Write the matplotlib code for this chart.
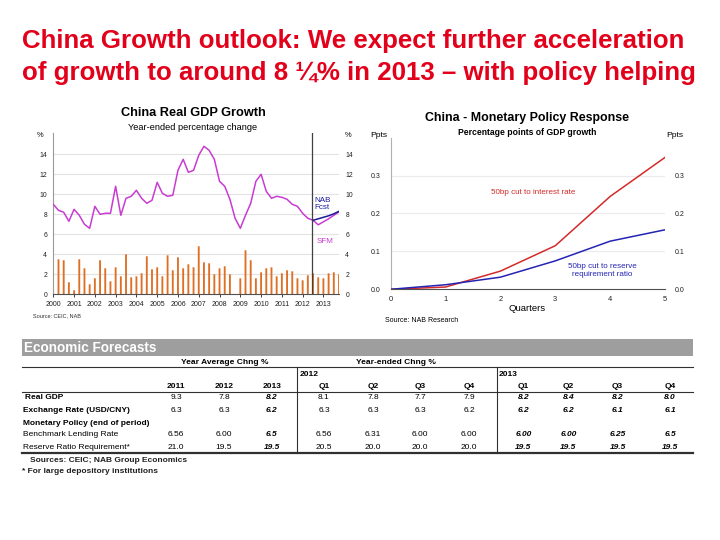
import numpy as np
import matplotlib
matplotlib.use("Agg")
import matplotlib.pyplot as plt
from matplotlib.patches import Rectangle
from matplotlib.lines import Line2D

plt.rcParams['font.family'] = ['Liberation Sans', 'DejaVu Sans']

W, H = 720, 540

TITLE_RED = '#E2001A'
MAGENTA = '#C83CD2'
NAVY = '#1A1A9A'
ORANGE = '#DE7026'
GRID = '#E2E2E2'

# China real GDP, year-ended % change, quarterly from 2000Q1
gdp_years = list(range(2000, 2014))
gdp_actual = [9.0, 8.4, 8.2, 7.3, 8.5, 7.9, 7.0, 6.6, 8.8, 8.0, 8.1, 8.1,
			  10.8, 7.9, 9.6, 9.8, 10.4, 9.6, 9.1, 9.4, 11.2, 10.1, 9.8, 9.9,
			  12.4, 13.5, 12.2, 12.4, 13.9, 14.8, 14.4, 13.5, 11.3, 10.8, 9.5, 7.6,
			  6.6, 7.9, 9.1, 11.3, 12.0, 10.3, 9.6, 9.8, 9.7, 9.5, 9.0, 8.8,
			  8.1, 7.6, 7.4]
# forecasts start at the last actual quarter (2012Q3)
nab_fcst = [7.4, 7.55, 7.7, 7.85, 8.05, 8.3]
sfm_fcst = [7.4, 6.95, 7.25, 7.55, 7.9, 8.25]
# quarterly change, bars (2000Q1 .. 2013Q4)
gdp_qoq = [np.nan, 3.5, 3.4, 1.2, 0.4, 3.5, 2.6, 1.0, 1.6, 3.4, 2.6, 1.3,
		   2.7, 1.8, 4.0, 1.7, 1.8, 2.1, 3.8, 2.5, 2.7, 1.8, 3.9, 2.4,
		   3.7, 2.6, 3.0, 2.7, 4.8, 3.2, 3.1, 2.0, 2.6, 2.8, 2.0, np.nan,
		   1.6, 4.4, 3.4, 1.6, 2.2, 2.6, 2.7, 1.8, 2.1, 2.4, 2.3, 1.6,
		   1.4, 1.9, 2.1, 1.7, 1.6, 2.1, 2.2, 2.0]

# Monetary policy response, ppts of GDP growth
mp_quarters = [0, 1, 2, 3, 4, 5]
rate_cut = [0.0, 0.006, 0.048, 0.115, 0.245, 0.348]
rrr_cut = [0.0, 0.012, 0.032, 0.075, 0.127, 0.157]

# Economic forecasts table
col_years = ['2011', '2012', '2013', 'Q1', 'Q2', 'Q3', 'Q4', 'Q1', 'Q2', 'Q3', 'Q4']
row_gdp = ['9.3', '7.8', '8.2', '8.1', '7.8', '7.7', '7.9', '8.2', '8.4', '8.2', '8.0']
row_fx = ['6.3', '6.3', '6.2', '6.3', '6.3', '6.3', '6.2', '6.2', '6.2', '6.1', '6.1']
row_lending = ['6.56', '6.00', '6.5', '6.56', '6.31', '6.00', '6.00', '6.00', '6.00', '6.25', '6.5']
row_rrr = ['21.0', '19.5', '19.5', '20.5', '20.0', '20.0', '20.0', '19.5', '19.5', '19.5', '19.5']
forecast_cols = [2, 7, 8, 9, 10]


def fx(x):
	return x / W


def fy(y):
	return 1 - y / H


def pt(px):
	return px * 0.72


def add_axes_px(fig, x0, x1, ytop, ybot):
	return fig.add_axes([fx(x0), fy(ybot), (x1 - x0) / W, (ybot - ytop) / H])


def plot_gdp(fig):
	"""
	Left panel: China real GDP growth with NAB / SFM forecasts
	"""
	ax = add_axes_px(fig, 53.3, 339, 133.3, 294.3)
	n_act = len(gdp_actual)
	x_act = np.arange(n_act)
	x_fc = np.arange(n_act - 1, n_act - 1 + len(nab_fcst))
	x_bar = np.arange(len(gdp_qoq))

	for v in range(2, 16, 2):
		ax.axhline(v, color=GRID, linewidth=0.8, zorder=0)

	ax.bar(x_bar, gdp_qoq, width=0.36, color=ORANGE, zorder=2, snap=False)
	ax.plot(x_act, gdp_actual, color=MAGENTA, linewidth=1.1, zorder=3)
	ax.plot(x_fc, sfm_fcst, color=MAGENTA, linewidth=1.1, zorder=3)
	ax.plot(x_fc, nab_fcst, color=NAVY, linewidth=1.1, zorder=4)
	ax.axvline(n_act - 1.2, color='#404040', linewidth=0.9, zorder=5)

	ax.set_xlim(0, len(gdp_qoq) - 1)
	ax.set_ylim(0, 16.1)
	ax.set_yticks(range(0, 16, 2))
	ax.set_xticks(np.arange(len(gdp_years)) * 4)
	ax.set_xticklabels([str(y) for y in gdp_years])
	ax.tick_params(axis='y', length=0, labelsize=pt(6.8), pad=4.5, labelright=True, colors='#202020')
	ax.tick_params(axis='x', length=2, width=0.6, labelsize=pt(7), pad=3, colors='#202020')
	for s in ['top', 'right']:
		ax.spines[s].set_visible(False)
	ax.spines['left'].set_color('#9A9A9A')
	ax.spines['bottom'].set_color('#505050')

	ax.text(0.915, 0.56, 'NAB\nFcst', transform=ax.transAxes, color=NAVY,
			fontsize=pt(8), ha='left', va='center', linespacing=1.0)
	ax.text(0.92, 0.33, 'SFM', transform=ax.transAxes, color=MAGENTA,
			fontsize=pt(8), ha='left', va='center')

	fig.text(fx(193), fy(113), 'China Real GDP Growth', fontsize=pt(12.7), weight='bold',
			 ha='center', va='center')
	fig.text(fx(193), fy(127), 'Year-ended percentage change', fontsize=pt(9.3),
			 ha='center', va='center')
	fig.text(fx(40), fy(135.5), '%', fontsize=pt(7.5), ha='center', va='center')
	fig.text(fx(348.5), fy(135.5), '%', fontsize=pt(7.5), ha='center', va='center')
	fig.text(fx(33), fy(316), 'Source: CEIC, NAB', fontsize=pt(5.5), ha='left', va='center',
			 color='#303030')


def plot_policy(fig):
	"""
	Right panel: monetary policy response
	"""
	ax = add_axes_px(fig, 390.7, 665, 137.7, 289.3)
	for v in [0.1, 0.2, 0.3]:
		ax.axhline(v, color='#EBEBEB', linewidth=0.8, zorder=0)
	ax.plot(mp_quarters, rate_cut, color='#D42A2A', linewidth=1.1, zorder=3)
	ax.plot(mp_quarters, rrr_cut, color='#2424B4', linewidth=1.1, zorder=3)

	ax.set_xlim(0, 5)
	ax.set_ylim(0, 0.4)
	ax.set_yticks([0.0, 0.1, 0.2, 0.3])
	ax.set_yticklabels(['0.0', '0.1', '0.2', '0.3'])
	ax.set_xticks(mp_quarters)
	ax.tick_params(axis='y', length=0, labelsize=pt(7), pad=7, labelright=True, colors='#202020')
	ax.tick_params(axis='x', length=0, labelsize=pt(7.5), pad=5, colors='#202020')
	for s in ['top', 'right']:
		ax.spines[s].set_visible(False)
	ax.spines['left'].set_color('#B0B0B0')
	ax.spines['bottom'].set_color('#505050')

	ax.text(2.6, 0.255, '50bp cut to interest rate', color='#D42A2A', fontsize=pt(8),
			ha='center', va='center')
	ax.text(3.85, 0.05, '50bp cut to reserve\nrequirement ratio', color='#2424B4',
			fontsize=pt(8), ha='center', va='center', linespacing=1.1)

	fig.text(fx(527), fy(118.5), 'China - Monetary Policy Response', fontsize=pt(12.4),
			 weight='bold', ha='center', va='center')
	fig.text(fx(527), fy(133), 'Percentage points of GDP growth', fontsize=pt(8.6),
			 weight='bold', ha='center', va='center')
	fig.text(fx(379), fy(136), 'Ppts', fontsize=pt(8.5), ha='center', va='center')
	fig.text(fx(675), fy(136), 'Ppts', fontsize=pt(8.5), ha='center', va='center')
	fig.text(fx(527), fy(308.5), 'Quarters', fontsize=pt(9.5), ha='center', va='center')
	fig.text(fx(385), fy(320), 'Source: NAB Research', fontsize=pt(7), ha='left',
			 va='center')


def plot_table(fig):
	"""
	Economic forecasts table drawn with figure text and lines
	"""
	fig.patches.append(Rectangle((fx(22), fy(356)), (693 - 22) / W, (356 - 339) / H,
								 transform=fig.transFigure, facecolor='#9E9E9E',
								 edgecolor='none', zorder=0))
	fig.text(fx(24), fy(347.5), 'Economic Forecasts', fontsize=pt(13.6), weight='bold',
			 color='white', ha='left', va='center')

	def hline(y, lw=0.8):
		fig.lines.append(Line2D([fx(22), fx(693)], [fy(y), fy(y)], transform=fig.transFigure,
								color='#303030', linewidth=lw))

	def vline(x):
		fig.lines.append(Line2D([fx(x), fx(x)], [fy(367.3), fy(453.3)],
								transform=fig.transFigure, color='#303030', linewidth=0.8))

	hline(367.3)
	hline(392.3)
	hline(453.3, lw=1.6)
	vline(296.7)
	vline(496.7)

	small = pt(8.4)
	fig.text(fx(225), fy(362), 'Year Average Chng %', fontsize=small, weight='bold',
			 ha='center', va='center')
	fig.text(fx(396), fy(362), 'Year-ended Chng %', fontsize=small, weight='bold',
			 ha='center', va='center')
	fig.text(fx(300), fy(374), '2012', fontsize=small, weight='bold', ha='left', va='center')
	fig.text(fx(499), fy(374), '2013', fontsize=small, weight='bold', ha='left', va='center')

	col_x = [176, 224, 271.7, 324, 373.3, 420, 469, 523.3, 568.3, 617.5, 670]
	for x, lab in zip(col_x, col_years):
		fig.text(fx(x), fy(386.7), lab, fontsize=small, weight='bold', ha='center', va='center')

	labels = [('Real GDP', 'bold', 397.5, row_gdp, 25),
			  ('Exchange Rate (USD/CNY)', 'bold', 411, row_fx, 23.3),
			  ('Monetary Policy (end of period)', 'bold', 423.3, None, 23.3),
			  ('Benchmark Lending Rate', 'normal', 435, row_lending, 23.3),
			  ('Reserve Ratio Requirement*', 'normal', 447.3, row_rrr, 23.3)]
	for name, w, y, row, x0 in labels:
		fig.text(fx(x0), fy(y), name, fontsize=small, weight=w, ha='left', va='center')
		if row is None:
			continue
		for i, (x, val) in enumerate(zip(col_x, row)):
			if i in forecast_cols:
				fig.text(fx(x), fy(y), val, fontsize=small, weight='bold', style='italic',
						 ha='center', va='center')
			else:
				fig.text(fx(x), fy(y), val, fontsize=small, ha='center', va='center')

	fig.text(fx(30), fy(460), 'Sources: CEIC; NAB Group Economics', fontsize=small,
			 weight='bold', ha='left', va='center', color='#202020')
	fig.text(fx(22), fy(471.7), '* For large depository institutions', fontsize=small,
			 weight='bold', ha='left', va='center', color='#202020')


fig = plt.figure(figsize=(7.2, 5.4), dpi=100)
fig.patch.set_facecolor('white')

fig.text(fx(22), fy(48), 'China Growth outlook: We expect further acceleration',
		 fontsize=18.6, weight='bold', color=TITLE_RED, ha='left', va='baseline')
fig.text(fx(22), fy(80), 'of growth to around 8 \u00bc% in 2013 \u2013 with policy helping',
		 fontsize=18.6, weight='bold', color=TITLE_RED, ha='left', va='baseline')

plot_gdp(fig)
plot_policy(fig)
plot_table(fig)

fig.savefig('out.png', dpi=100)
